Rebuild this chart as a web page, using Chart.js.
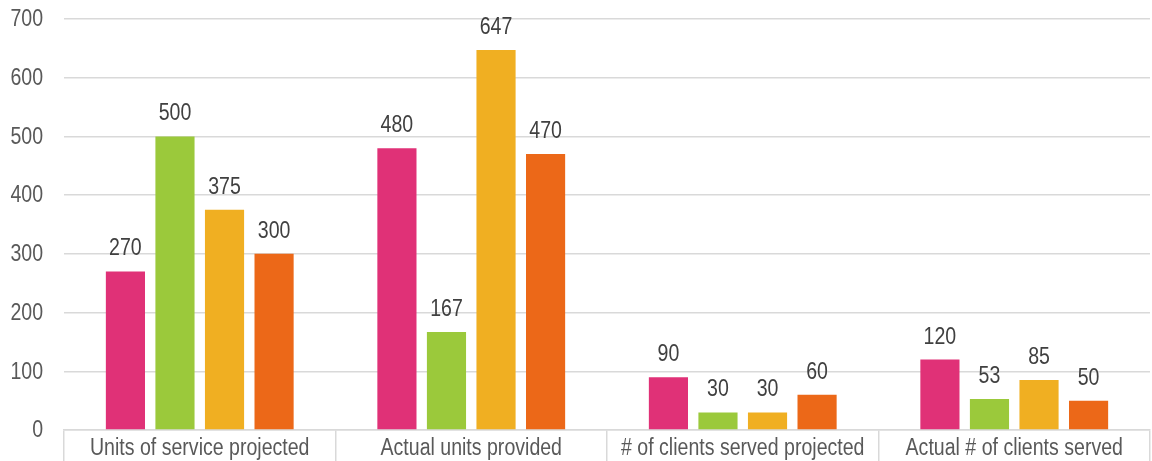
<!DOCTYPE html>
<html>
<head>
<meta charset="utf-8">
<script src="https://cdn.jsdelivr.net/npm/chart.js@4/dist/chart.umd.min.js"></script>
<style>
  html, body { margin: 0; padding: 0; background: #fff; }
  #wrap { width: 1152px; height: 461px; }
</style>
</head>
<body>
<div id="wrap"><canvas id="chart" width="1152" height="461"></canvas></div>
<script>
// data
const categories = ["Units of service projected", "Actual units provided", "# of clients served projected", "Actual # of clients served"];
const seriesPink   = [270, 480, 90, 120];
const seriesGreen  = [500, 167, 30, 53];
const seriesYellow = [375, 647, 30, 85];
const seriesOrange = [300, 470, 60, 50];
const yTicks = [0, 100, 200, 300, 400, 500, 600, 700];

const FONT = "'Liberation Sans', Arial, sans-serif";
const SQUEEZE = 0.85; // reference font is a narrow face

// draw text squeezed horizontally around its anchor
function narrowText(ctx, txt, x, y, align) {
  ctx.save();
  ctx.translate(x, y);
  ctx.scale(SQUEEZE, 1);
  ctx.textAlign = align;
  ctx.fillText(txt, 0, 0);
  ctx.restore();
}

// value labels above bars + narrow tick labels
const textLayer = {
  id: 'textLayer',
  afterDraw(chart) {
    const ctx = chart.ctx;
    ctx.save();
    ctx.font = "23px " + FONT;

    ctx.fillStyle = "#404040";
    ctx.textBaseline = "alphabetic";
    chart.data.datasets.forEach((ds, i) => {
      chart.getDatasetMeta(i).data.forEach((bar, j) => {
        narrowText(ctx, String(ds.data[j]), bar.x, bar.y - 16, "center");
      });
    });

    ctx.fillStyle = "#595959";
    const xs = chart.scales.x;
    xs.ticks.forEach((t, i) => {
      narrowText(ctx, categories[i], xs.getPixelForTick(i), 455, "center");
    });

    const ys = chart.scales.y;
    ctx.textBaseline = "middle";
    ys.ticks.forEach((t, i) => {
      narrowText(ctx, String(t.value), 43, ys.getPixelForValue(t.value) + 1, "right");
    });
    ctx.restore();
  }
};

function mk(label, data, color) {
  return { label: label, data: data, backgroundColor: color, borderWidth: 0,
           categoryPercentage: 0.73, barPercentage: 0.79 };
}

new Chart(document.getElementById("chart"), {
  type: 'bar',
  data: {
    labels: categories,
    datasets: [
      mk("Series 1", seriesPink, "#E03177"),
      mk("Series 2", seriesGreen, "#9BC93B"),
      mk("Series 3", seriesYellow, "#F0AF22"),
      mk("Series 4", seriesOrange, "#EC6818")
    ]
  },
  options: {
    responsive: false,
    animation: false,
    layout: { padding: { top: 19, right: 2, left: 0, bottom: 0 } },
    plugins: { legend: { display: false }, tooltip: { enabled: false } },
    scales: {
      x: {
        grid: { offset: true, drawOnChartArea: false, drawTicks: true, tickLength: 31, color: "#d9d9d9", lineWidth: 1.5 },
        border: { display: true, color: "#d9d9d9", width: 1.5 },
        ticks: { color: "rgba(0,0,0,0)", font: { family: FONT, size: 23 }, padding: -29, maxRotation: 0, autoSkip: false },
        afterFit(scale) { scale.height = 31; scale.paddingLeft = 0; scale.paddingRight = 0; }
      },
      y: {
        min: 0, max: 700,
        afterBuildTicks(scale) { scale.ticks = yTicks.map(v => ({ value: v })); },
        grid: { color: "#d9d9d9", lineWidth: 1.5, drawTicks: false },
        border: { display: false },
        ticks: { color: "rgba(0,0,0,0)", font: { family: FONT, size: 23 }, padding: 22 },
        afterFit(scale) { scale.width = 64; scale.paddingTop = 0; scale.paddingBottom = 0; }
      }
    }
  },
  plugins: [textLayer]
});
</script>
</body>
</html>
